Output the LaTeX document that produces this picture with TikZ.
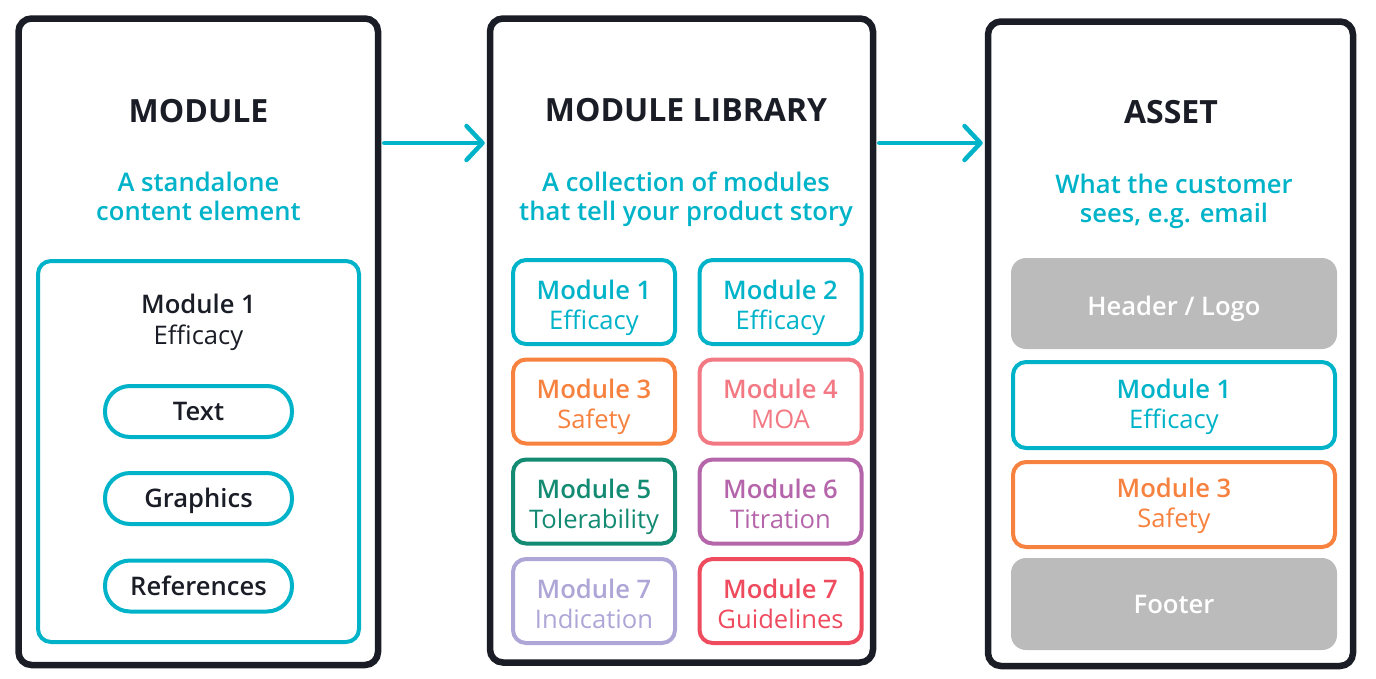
\documentclass[tikz,border=0pt]{standalone}
\usepackage{fontspec}
\setmainfont{Open Sans}
\newfontfamily\semib{Open Sans Semibold}
\usetikzlibrary{arrows.meta}

\definecolor{ink}{HTML}{1A1D26}
\definecolor{mcyan}{HTML}{00B3C8}
\definecolor{morange}{HTML}{F7823F}
\definecolor{mpink}{HTML}{F27983}
\definecolor{mgreen}{HTML}{138A72}
\definecolor{mpurple}{HTML}{B566AA}
\definecolor{mlilac}{HTML}{ADA6D6}
\definecolor{mred}{HTML}{EF4B5F}
\definecolor{mgray}{HTML}{BBBBBB}

\newcommand{\modtext}[3][7]{{\semib\rule{0pt}{31pt}#2}\\#3\rule[-#1pt]{0pt}{#1pt}}

\begin{document}
\begin{tikzpicture}[x=1pt,y=-1pt,
    panel/.style={draw=ink,line width=6.5pt,rounded corners=13pt,inner sep=0pt},
    heading/.style={text=ink,font=\fontsize{32}{38}\selectfont\bfseries,inner sep=0pt,anchor=base},
    blurb/.style={text=mcyan,font=\fontsize{25.6}{29}\selectfont\semib,align=center,inner sep=0pt,anchor=north},
    modbox/.style={draw=#1,text=#1,line width=4pt,rounded corners=13pt,align=center,inner sep=0pt,font=\fontsize{25.6}{30}\selectfont},
    pill/.style={draw=mcyan,text=ink,line width=4pt,rounded corners=25pt,minimum width=187pt,minimum height=51pt,inner sep=0pt,text height=18pt,text depth=0pt,font=\fontsize{25.6}{30}\selectfont\semib},
    slab/.style={fill=mgray,text=white,rounded corners=15pt,minimum width=326pt,inner sep=0pt,text height=18pt,text depth=0pt,font=\fontsize{25.6}{30}\selectfont\semib},
    flow/.style={draw=mcyan,line width=4.5pt,line cap=round,-{Straight Barb[length=16pt,width=34pt,round]},shorten <=3pt,shorten >=2pt}]
    \useasboundingbox (0,0) rectangle (1376,678);

    \node[panel,minimum width=359.5pt,minimum height=646.5pt] (modpanel) at (198.25,341.75) {};
    \node[panel,minimum width=383pt,minimum height=644pt] (libpanel) at (681.5,340.5) {};
    \node[panel,minimum width=365pt,minimum height=644.5pt] (assetpanel) at (1170.5,343.75) {};

    \coordinate (arrowrow) at (0,143);
    \draw[flow] (modpanel.east |- arrowrow) -- (libpanel.west |- arrowrow);
    \draw[flow] (libpanel.east |- arrowrow) -- (assetpanel.west |- arrowrow);

    \node[heading] (modtitle) at (198.5,122) {MODULE};
    \node[blurb] (modblurb) at (198.5,172) {A standalone\\content element};
    \node[modbox=mcyan,minimum width=321pt,minimum height=381pt] (modframe) at (198.5,451.5) {};
    \node[text=ink,align=center,inner sep=0pt,anchor=north,font=\fontsize{25.6}{31}\selectfont] (modname) at (198.5,282) {\modtext{Module 1}{Efficacy}};
    \node[pill] (modtext) at (198.5,411.5) {Text};
    \node[pill] (modgraphics) at (198.5,498.5) {Graphics};
    \node[pill] (modrefs) at (198.5,586) {References};

    \node[heading] (libtitle) at (686,121) {MODULE LIBRARY};
    \node[blurb] (libblurb) at (686,172) {A collection of modules\\that tell your product story};
    \foreach \n/\x/\y/\col/\num/\topic in {
        1/594/302/mcyan/1/Efficacy, 2/780.5/302/mcyan/2/Efficacy,
        3/594/401.5/morange/3/Safety, 4/780.5/401.5/mpink/4/MOA,
        5/594/501.5/mgreen/5/Tolerability, 6/780.5/501.5/mpurple/6/Titration,
        7/594/601/mlilac/7/Indication, 8/780.5/601/mred/7/Guidelines}
        \node[modbox=\col,minimum width=162pt,minimum height=84pt] (lib\n) at (\x,\y) {\modtext{Module \num}{\topic}};

    \node[heading] (assettitle) at (1171,123) {ASSET};
    \node[blurb] (assetblurb) at (1174,174) {What the customer\\sees, e.g. email};
    \node[slab,minimum height=91pt,text height=24pt] (assethead) at (1174,303.5) {Header / Logo};
    \node[modbox=mcyan,minimum width=322pt,minimum height=86pt] (assetmod1) at (1174,405) {\modtext[15]{Module 1}{Efficacy}};
    \node[modbox=morange,minimum width=322pt,minimum height=85pt] (assetmod3) at (1174,504.5) {\modtext[15]{Module 3}{Safety}};
    \node[slab,minimum height=92pt] (assetfoot) at (1174,604) {Footer};
\end{tikzpicture}
\end{document}
